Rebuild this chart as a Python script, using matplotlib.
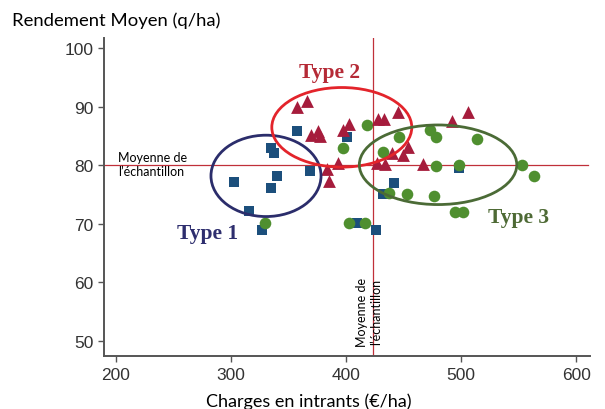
import matplotlib
matplotlib.use("Agg")
import matplotlib.pyplot as plt
from matplotlib.patches import Ellipse

# Type 1 (blue squares)
t1_x = [357, 334.5, 337.7, 368.7, 302.9, 340.3, 335.0, 315.7, 327.2, 400.8, 441.7, 432.4, 409.3, 426.1, 498.5]
t1_y = [85.9, 83.0, 82.1, 79.1, 77.1, 78.1, 76.1, 72.2, 69.0, 84.9, 77.0, 75.1, 70.1, 69.0, 79.5]
# Type 2 (red triangles)
t2_x = [357.1, 365.8, 369.6, 375.9, 377.4, 397.1, 402.9, 428.1, 433.3, 445.0, 491.9, 506.3,
        393.3, 383.7, 385.5, 426.7, 433.9, 439.7, 449.8, 454.2, 467.2]
t2_y = [90.0, 91.0, 85.2, 85.8, 85.0, 86.1, 87.1, 88.0, 88.0, 89.1, 87.6, 89.2,
        80.4, 79.3, 77.3, 80.4, 80.2, 82.1, 81.8, 83.1, 80.3]
# Type 3 (green circles)
t3_x = [418.0, 397.7, 446.3, 431.9, 473.0, 478.3, 513.7, 478.0, 498.3, 552.8, 563.5,
        437.6, 453.3, 476.3, 494.8, 502.0, 402.8, 416.5, 329.6]
t3_y = [86.9, 83.0, 84.8, 82.2, 86.1, 84.8, 84.5, 79.9, 80.1, 80.0, 78.1,
        75.2, 75.1, 74.7, 72.1, 72.1, 70.2, 70.2, 70.2]

mean_x = 423
mean_y = 80

# groups: name, centre, width, height, label position
groups = ["Type 1", "Type 2", "Type 3"]
ell_cx = [330.4, 396.3, 480.0]
ell_cy = [78.2, 86.5, 80.1]
ell_w = [95.7, 121.7, 136.9]
ell_h = [13.9, 13.6, 13.6]
lab_x = [280, 386, 550]
lab_y = [68.4, 95.9, 71.1]
ell_colors = ["#2b2d6b", "#e3242b", "#4b6b36"]
lab_colors = ["#2e2e6e", "#b52a36", "#4e6a35"]

fig = plt.figure(figsize=(6.05, 4.10), dpi=100)
ax = fig.add_axes([0.172, 0.129, 0.803, 0.775])
ax.set_xlim(189.6, 612)
ax.set_ylim(47.4, 101.7)

ax.plot([189.6, 610.4], [mean_y, mean_y], color="#c0303a", lw=0.9, zorder=1)
ax.axvline(mean_x, color="#c0303a", lw=0.9, zorder=1)

ax.scatter(t1_x, t1_y, marker="s", s=42, color="#1c4f7c", zorder=3, linewidths=0)
ax.scatter(t3_x, t3_y, marker="o", s=70, color="#4f8f2f", zorder=3, linewidths=0)
ax.scatter(t2_x, t2_y, marker="^", s=85, color="#a61c3c", zorder=4, linewidths=0)

for i in range(3):
    ax.add_patch(Ellipse((ell_cx[i], ell_cy[i]), ell_w[i], ell_h[i], fill=False,
                         edgecolor=ell_colors[i], lw=2, zorder=5))
    ax.text(lab_x[i], lab_y[i], groups[i], color=lab_colors[i], fontsize=15.5,
            fontweight="bold", family="Liberation Serif", ha="center", va="center")

ax.text(201.7, 80.3, "Moyenne de\nl\u2019\u00e9chantillon", fontsize=9, family="Lato",
        ha="left", va="center")
ax.text(420, 49.2, "Moyenne de\nl\u2019\u00e9chantillon", fontsize=9, family="Lato",
        rotation=90, ha="center", va="bottom", multialignment="center")

for s in ["top", "right"]:
    ax.spines[s].set_visible(False)
for s in ["left", "bottom"]:
    ax.spines[s].set_color("#555555")
    ax.spines[s].set_linewidth(1.4)

ax.set_xticks([200, 300, 400, 500, 600])
ax.set_yticks([50, 60, 70, 80, 90, 100])
ax.tick_params(length=4, width=1, color="#555555", labelsize=12.5, labelcolor="#333333")
for lab in ax.get_xticklabels() + ax.get_yticklabels():
    lab.set_family("Liberation Sans")

fig.text(0.02, 0.95, "Rendement Moyen (q/ha)", fontsize=13.3, family="Lato", ha="left", va="center")
fig.text(0.51, 0.02, "Charges en intrants (\u20ac/ha)", fontsize=13, family="Lato", ha="center", va="center")

fig.savefig("out.png", dpi=100)
